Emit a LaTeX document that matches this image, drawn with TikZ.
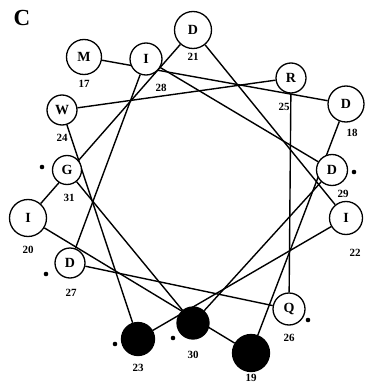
\documentclass[tikz,border=0pt]{standalone}
\usepackage{fontspec}
\setmainfont{Liberation Serif}
\usetikzlibrary{backgrounds}
\begin{document}
\begin{tikzpicture}[x=1pt,y=-1pt,
  res/.style={circle, draw, line width=1.3pt, fill=white, inner sep=0pt,
    font=\bfseries\fontsize{14}{14}\selectfont},
  dark/.style={res, fill=black},
  num/.style={inner sep=0pt, font=\bfseries\fontsize{11}{11}\selectfont},
  link/.style={line width=1.4pt},
  flag/.style={fill=black}]
\useasboundingbox (0,0) rectangle (365,385);

\node[font=\bfseries\fontsize{23}{23}\selectfont, inner sep=0pt] (panel) at (22,18) {C};

% residues of the helical wheel
\node[res, minimum size=35] (r17) at (84,57) {M};
\node[res, minimum size=36] (r18) at (346,104) {D};
\node[dark, minimum size=37] (r19) at (251,353) {};
\node[res, minimum size=37] (r20) at (28,218) {I};
\node[res, minimum size=37] (r21) at (193,30) {D};
\node[res, minimum size=33] (r22) at (346,218) {I};
\node[dark, minimum size=33] (r23) at (138,339) {};
\node[res, minimum size=30] (r24) at (62,110) {W};
\node[res, minimum size=30] (r25) at (291,78) {R};
\node[res, minimum size=32] (r26) at (289,309) {Q};
\node[res, minimum size=30] (r27) at (70,263) {D};
\node[res, minimum size=32] (r28) at (146,59) {I};
\node[res, minimum size=31] (r29) at (332,170) {D};
\node[dark, minimum size=32] (r30) at (193,323) {};
\node[res, minimum size=29] (r31) at (67,170) {G};

% residue numbers
\node[num] (n17) at (84,84) {17};
\node[num] (n18) at (352,133) {18};
\node[num] (n19) at (251,378) {19};
\node[num] (n20) at (28,250) {20};
\node[num] (n21) at (193,57) {21};
\node[num] (n22) at (355,253) {22};
\node[num] (n23) at (138,368) {23};
\node[num] (n24) at (62,138) {24};
\node[num] (n25) at (284,107) {25};
\node[num] (n26) at (289,338) {26};
\node[num] (n27) at (71,293) {27};
\node[num] (n28) at (161,88) {28};
\node[num] (n29) at (343,194) {29};
\node[num] (n30) at (193,355) {30};
\node[num] (n31) at (69,198) {31};

% marked residues
\fill[flag] (42,167) circle (2.3);
\fill[flag] (354,172) circle (2.3);
\fill[flag] (46,274) circle (2.3);
\fill[flag] (115,344) circle (2.3);
\fill[flag] (173,338) circle (2.3);
\fill[flag] (308,320) circle (2.3);

% consecutive residues, drawn behind the circles
\begin{scope}[on background layer]
  \draw[link] (r17) -- (r18);
  \draw[link] (r18) -- (r19);
  \draw[link] (r19) -- (r20);
  \draw[link] (r20) -- (r21);
  \draw[link] (r21) -- (r22);
  \draw[link] (r22) -- (r23);
  \draw[link] (r23) -- (r24);
  \draw[link] (r24) -- (r25);
  \draw[link] (r25) -- (r26);
  \draw[link] (r26) -- (r27);
  \draw[link] (r27) -- (r28);
  \draw[link] (r28) -- (r29);
  \draw[link] (r29) -- (r30);
  \draw[link] (r30) -- (r31);
\end{scope}
\end{tikzpicture}
\end{document}
